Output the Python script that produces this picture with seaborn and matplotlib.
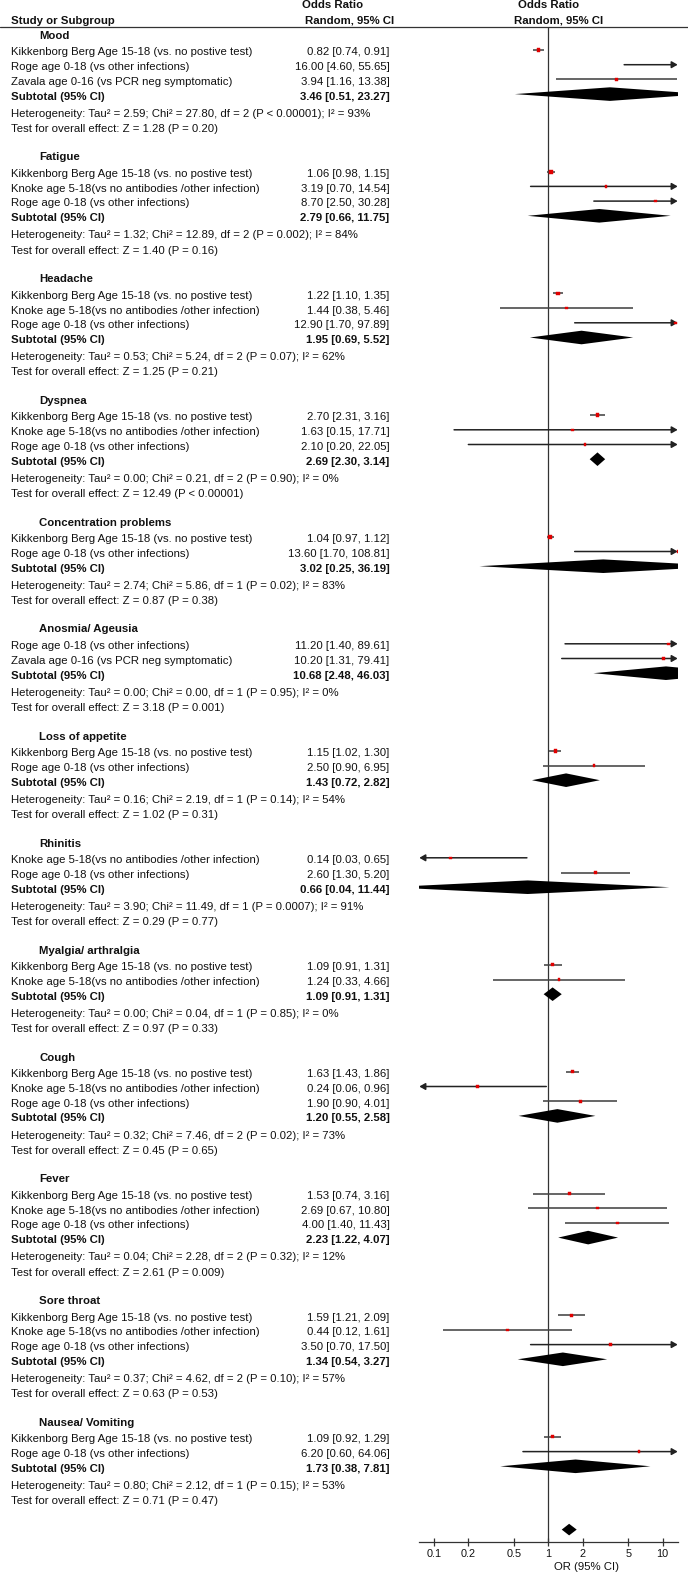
import numpy as np
import pandas as pd
import matplotlib
matplotlib.use("Agg")
import matplotlib.pyplot as plt
import seaborn as sns

# ---------------- data ----------------
groups = ["Mood", "Fatigue", "Headache", "Dyspnea", "Concentration problems",
          "Anosmia/ Ageusia", "Loss of appetite", "Rhinitis", "Myalgia/ arthralgia",
          "Cough", "Fever", "Sore throat", "Nausea/ Vomiting"]

KB = "Kikkenborg Berg Age 15-18 (vs. no postive test)"
RG = "Roge age 0-18 (vs other infections)"
ZV = "Zavala age 0-16 (vs PCR neg symptomatic)"
KN = "Knoke age 5-18(vs no antibodies /other infection)"

study_labels = [[KB, RG, ZV], [KB, KN, RG], [KB, KN, RG], [KB, KN, RG], [KB, RG],
                [RG, ZV], [KB, RG], [KN, RG], [KB, KN], [KB, KN, RG], [KB, KN, RG],
                [KB, KN, RG], [KB, RG]]
study_or = [[0.82, 16.00, 3.94], [1.06, 3.19, 8.70], [1.22, 1.44, 12.90], [2.70, 1.63, 2.10],
            [1.04, 13.60], [11.20, 10.20], [1.15, 2.50], [0.14, 2.60], [1.09, 1.24],
            [1.63, 0.24, 1.90], [1.53, 2.69, 4.00], [1.59, 0.44, 3.50], [1.09, 6.20]]
study_lo = [[0.74, 4.60, 1.16], [0.98, 0.70, 2.50], [1.10, 0.38, 1.70], [2.31, 0.15, 0.20],
            [0.97, 1.70], [1.40, 1.31], [1.02, 0.90], [0.03, 1.30], [0.91, 0.33],
            [1.43, 0.06, 0.90], [0.74, 0.67, 1.40], [1.21, 0.12, 0.70], [0.92, 0.60]]
study_hi = [[0.91, 55.65, 13.38], [1.15, 14.54, 30.28], [1.35, 5.46, 97.89], [3.16, 17.71, 22.05],
            [1.12, 108.81], [89.61, 79.41], [1.30, 6.95], [0.65, 5.20], [1.31, 4.66],
            [1.86, 0.96, 4.01], [3.16, 10.80, 11.43], [2.09, 1.61, 17.50], [1.29, 64.06]]

sub_or = [3.46, 2.79, 1.95, 2.69, 3.02, 10.68, 1.43, 0.66, 1.09, 1.20, 2.23, 1.34, 1.73]
sub_lo = [0.51, 0.66, 0.69, 2.30, 0.25, 2.48, 0.72, 0.04, 0.91, 0.55, 1.22, 0.54, 0.38]
sub_hi = [23.27, 11.75, 5.52, 3.14, 36.19, 46.03, 2.82, 11.44, 1.31, 2.58, 4.07, 3.27, 7.81]

tau2 = [2.59, 1.32, 0.53, 0.00, 2.74, 0.00, 0.16, 3.90, 0.00, 0.32, 0.04, 0.37, 0.80]
chi2 = [27.80, 12.89, 5.24, 0.21, 5.86, 0.00, 2.19, 11.49, 0.04, 7.46, 2.28, 4.62, 2.12]
dfree = [2, 2, 2, 2, 1, 1, 1, 1, 1, 2, 2, 2, 1]
p_het = ["< 0.00001", "= 0.002", "= 0.07", "= 0.90", "= 0.02", "= 0.95", "= 0.14",
         "= 0.0007", "= 0.85", "= 0.02", "= 0.32", "= 0.10", "= 0.15"]
i2 = [93, 84, 62, 0, 83, 0, 54, 91, 0, 73, 12, 57, 53]
z_val = [1.28, 1.40, 1.25, 12.49, 0.87, 3.18, 1.02, 0.29, 0.97, 0.45, 2.61, 0.63, 0.71]
p_z = ["= 0.20", "= 0.16", "= 0.21", "< 0.00001", "= 0.38", "= 0.001", "= 0.31",
       "= 0.77", "= 0.33", "= 0.65", "= 0.009", "= 0.53", "= 0.47"]

overall_or, overall_lo, overall_hi = 1.52, 1.31, 1.77

xticks = [0.1, 0.2, 0.5, 1, 2, 5, 10]
xtick_labels = ["0.1", "0.2", "0.5", "1", "2", "5", "10"]
x_limits = (0.0745, 13.52)

# ---------------- style ----------------
sns.set_theme(style="white")
plt.rcParams["font.family"] = ["Liberation Sans", "DejaVu Sans"]
FS = 8.2
TXT = "#111111"
LINE = "#333333"
CI_COL = "#444444"

W, H = 688, 1575
fig = plt.figure(figsize=(W / 100, H / 100), dpi=100, facecolor="white")
bg = fig.add_axes([0, 0, 1, 1])
bg.set_xlim(0, W)
bg.set_ylim(H, 0)
bg.axis("off")

X_AX0, X_AX1 = 419.3, 677.7
Y_TOP, Y_AX = 26.7, 1542.3
ax = fig.add_axes([X_AX0 / W, 1 - Y_AX / H, (X_AX1 - X_AX0) / W, (Y_AX - Y_TOP) / H])
ax.set_facecolor("none")
ax.set_xscale("log")
ax.set_xlim(*x_limits)
ax.set_ylim(Y_AX, Y_TOP)

# ---------------- layout of rows ----------------
Y0, A_GAP, S_GAP, B_GAP, C_GAP, D_GAP = 35.7, 16.7, 14.7, 17.2, 15.3, 28.4
MARK_OFF = 2.4
X_LABEL, X_HEAD, X_VAL = 11, 39, 389.5

recs = []
sub_y, het_y, test_y, head_y = [], [], [], []
y = Y0
for g, name in enumerate(groups):
    head_y.append(y)
    y += A_GAP
    for k, lab in enumerate(study_labels[g]):
        recs.append(dict(group=name, label=lab, OR=study_or[g][k], lo=study_lo[g][k],
                         hi=study_hi[g][k], y=y))
        y += S_GAP
    sub_y.append(y)
    y += B_GAP
    het_y.append(y)
    y += C_GAP
    test_y.append(y)
    y += D_GAP
overall_y = y

df = pd.DataFrame(recs)
df["ymark"] = df["y"] - MARK_OFF
df["prec"] = 1.0 / np.log(df["hi"] / df["lo"])

# ---------------- header ----------------
bold = dict(fontsize=FS, fontweight="bold", color=TXT, va="center")
bg.text(X_LABEL, 20.7, "Study or Subgroup", ha="left", **bold)
bg.text(302, 5.5, "Odds Ratio", ha="left", **bold)
bg.text(305, 20.2, "Random, 95% CI", ha="left", **bold)
bg.text(518, 5.5, "Odds Ratio", ha="left", **bold)
bg.text(514, 20.2, "Random, 95% CI", ha="left", **bold)
bg.plot([0, W], [Y_TOP, Y_TOP], color=LINE, lw=0.9)

# ---------------- text columns ----------------
for g, name in enumerate(groups):
    bg.text(X_HEAD, head_y[g], name, ha="left", **bold)
    bg.text(X_LABEL, sub_y[g], "Subtotal (95% CI)", ha="left", **bold)
    bg.text(X_VAL, sub_y[g], f"{sub_or[g]:.2f} [{sub_lo[g]:.2f}, {sub_hi[g]:.2f}]", ha="right", **bold)
    bg.text(X_LABEL, het_y[g],
            f"Heterogeneity: Tau\u00b2 = {tau2[g]:.2f}; Chi\u00b2 = {chi2[g]:.2f}, df = {dfree[g]} "
            f"(P {p_het[g]}); I\u00b2 = {i2[g]}%",
            ha="left", va="center", fontsize=FS, color=TXT)
    bg.text(X_LABEL, test_y[g], f"Test for overall effect: Z = {z_val[g]:.2f} (P {p_z[g]})",
            ha="left", va="center", fontsize=FS, color=TXT)

for _, r in df.iterrows():
    bg.text(X_LABEL, r["y"], r["label"], ha="left", va="center", fontsize=FS, color=TXT)
    bg.text(X_VAL, r["y"], f"{r['OR']:.2f} [{r['lo']:.2f}, {r['hi']:.2f}]",
            ha="right", va="center", fontsize=FS, color=TXT)

# ---------------- forest plot ----------------
ax.axvline(1, color=LINE, lw=0.9, zorder=1)
xmin, xmax = x_limits
arrow_style = "-|>,head_length=0.35,head_width=0.2"
for _, r in df.iterrows():
    lo_c, hi_c = max(r["lo"], xmin), min(r["hi"], xmax)
    ym = r["ymark"]
    if r["hi"] > xmax:
        ax.annotate("", xy=(xmax, ym), xytext=(lo_c, ym), annotation_clip=False,
                    arrowprops=dict(arrowstyle=arrow_style, color="#222222", lw=1.1,
                                    shrinkA=0, shrinkB=0, mutation_scale=10))
    elif r["lo"] < xmin:
        ax.annotate("", xy=(xmin, ym), xytext=(hi_c, ym), annotation_clip=False,
                    arrowprops=dict(arrowstyle=arrow_style, color="#222222", lw=1.1,
                                    shrinkA=0, shrinkB=0, mutation_scale=10))
    else:
        ax.plot([lo_c, hi_c], [ym, ym], color=CI_COL, lw=1.15, solid_capstyle="butt", zorder=2)

sns.scatterplot(data=df, x="OR", y="ymark", size="prec", sizes=(3.4, 8.0), marker="s",
                color="#e00000", edgecolor="#e00000", linewidth=0.3, legend=False, ax=ax, zorder=3)

DH = 6.8
for g in range(len(groups)):
    yc = sub_y[g] - MARK_OFF
    ax.fill([sub_lo[g], sub_or[g], sub_hi[g], sub_or[g]], [yc, yc - DH, yc, yc + DH],
            color="black", lw=0, zorder=3)
DH2 = 5.8
ax.fill([overall_lo, overall_or, overall_hi, overall_or],
        [overall_y, overall_y - DH2, overall_y, overall_y + DH2], color="black", lw=0, zorder=3)

# ---------------- axis ----------------
for side in ["top", "left", "right"]:
    ax.spines[side].set_visible(False)
ax.spines["bottom"].set_color(LINE)
ax.spines["bottom"].set_linewidth(0.9)
ax.set_xticks(xticks)
ax.set_xticklabels(xtick_labels)
ax.minorticks_off()
ax.tick_params(axis="x", direction="inout", length=5.3, width=0.9, color=LINE,
               pad=2, labelsize=7.8, labelcolor=TXT, bottom=True)
ax.set_yticks([])
ax.set_xlabel("")
ax.set_ylabel("")
bg.text(586, 1567.3, "OR (95% CI)", ha="center", va="center", fontsize=FS, color=TXT)

fig.savefig("out.png", dpi=100, facecolor="white")
